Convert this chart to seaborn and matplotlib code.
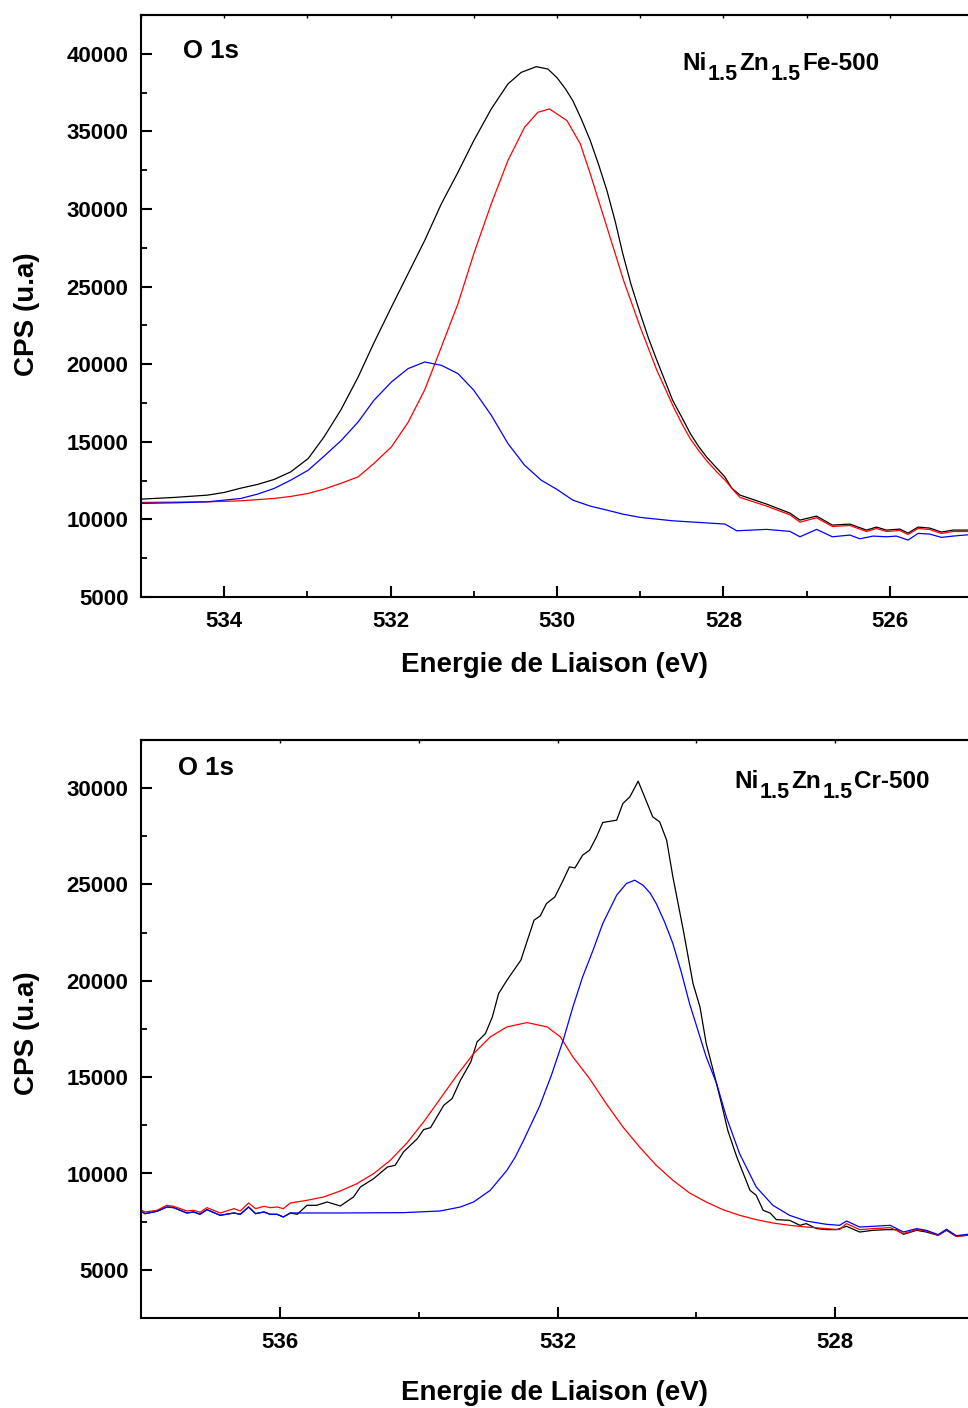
import numpy as np
import pandas as pd
import matplotlib
matplotlib.use("Agg")
import matplotlib.pyplot as plt
import seaborn as sns
from matplotlib.ticker import MultipleLocator
from matplotlib.transforms import IdentityTransform

# ---------------- Top panel : Ni1.5Zn1.5Fe-500 ----------------
fe_black_e = [535.00, 534.60, 534.20, 534.00, 533.80, 533.60, 533.40, 533.20, 532.99, 532.80,
              532.60, 532.39, 532.20, 531.99, 531.79, 531.59, 531.39, 531.19, 531.00, 530.79,
              530.59, 530.43, 530.25, 530.11, 530.00, 529.90, 529.81, 529.71, 529.60, 529.50,
              529.40, 529.30, 529.21, 529.11, 529.00, 528.90, 528.80, 528.70, 528.61, 528.50,
              528.40, 528.30, 528.20, 528.09, 527.98, 527.90, 527.80, 527.48, 527.20, 527.08,
              526.88, 526.69, 526.48, 526.28, 526.16, 526.04, 525.88, 525.78, 525.66, 525.52,
              525.38, 525.24, 525.06]
fe_black_v = [11306, 11416, 11564, 11737, 12014, 12252, 12574, 13063, 13925, 15315,
              17033, 19176, 21380, 23681, 25830, 27973, 30335, 32368, 34408, 36448,
              38057, 38803, 39170, 39022, 38462, 37754, 36982, 35824, 34408, 32864,
              31190, 29196, 27136, 25142, 23275, 21667, 20251, 18900, 17677, 16583,
              15553, 14717, 14009, 13366, 12722, 12014, 11564, 10985, 10405, 9955,
              10212, 9633, 9698, 9311, 9505, 9311, 9376, 9118, 9505, 9440,
              9183, 9311, 9311]

fe_red_e = [535.00, 534.20, 533.80, 533.40, 533.20, 532.99, 532.80, 532.60, 532.39, 532.20,
            531.99, 531.79, 531.59, 531.39, 531.19, 531.00, 530.79, 530.59, 530.39, 530.23,
            530.09, 529.88, 529.72, 529.60, 529.50, 529.40, 529.30, 529.20, 529.10, 529.00,
            528.90, 528.80, 528.70, 528.60, 528.50, 528.40, 528.30, 528.20, 528.08, 527.98,
            527.88, 527.80, 527.48, 527.20, 527.08, 526.88, 526.69, 526.48, 526.28, 526.16,
            526.04, 525.88, 525.78, 525.66, 525.52, 525.38, 525.24, 525.06]
fe_red_v = [11094, 11133, 11197, 11351, 11480, 11673, 11950, 12317, 12741, 13604,
            14672, 16250, 18350, 21107, 23900, 27117, 30335, 33121, 35264, 36230,
            36448, 35695, 34196, 32265, 30547, 28829, 27117, 25399, 23900, 22394,
            21004, 19607, 18430, 17246, 16178, 15212, 14459, 13771, 13063, 12529,
            11885, 11416, 10856, 10296, 9826, 10103, 9543, 9608, 9221, 9415,
            9221, 9286, 9028, 9415, 9350, 9093, 9221, 9221]

fe_blue_e = [535.00, 534.60, 534.20, 533.80, 533.60, 533.40, 533.20, 532.99, 532.80, 532.59,
             532.39, 532.20, 531.99, 531.79, 531.59, 531.39, 531.19, 531.00, 530.79, 530.59,
             530.39, 530.19, 530.00, 529.81, 529.60, 529.40, 529.21, 529.00, 528.61, 527.98,
             527.84, 527.48, 527.20, 527.08, 526.88, 526.69, 526.48, 526.36, 526.20, 526.04,
             525.92, 525.78, 525.66, 525.52, 525.38, 525.24, 525.06]
fe_blue_v = [11030, 11068, 11133, 11351, 11628, 11995, 12529, 13172, 14073, 15103,
             16281, 17677, 18855, 19717, 20142, 19929, 19395, 18320, 16712, 14891,
             13494, 12529, 11931, 11242, 10856, 10598, 10341, 10129, 9910, 9698,
             9266, 9357, 9228, 8880, 9357, 8880, 8990, 8752, 8925, 8880,
             8925, 8668, 9099, 9054, 8842, 8925, 9009]

# ---------------- Bottom panel : Ni1.5Zn1.5Cr-500 ----------------
base_e = [538.01, 537.94, 537.77, 537.63, 537.53, 537.34, 537.24, 537.15, 537.05, 536.86,
          536.66, 536.57, 536.45, 536.35, 536.23, 536.14, 536.04, 535.95, 535.85]
base_v = [8055, 7916, 8037, 8262, 8228, 7951, 8003, 7882, 8124, 7830,
          7951, 7882, 8262, 7916, 8003, 7882, 7882, 7743, 7951]

cr_black_e = base_e + [535.75, 535.61, 535.47, 535.32, 535.13, 534.94, 534.84, 534.65, 534.45, 534.34,
                       534.22, 534.02, 533.93, 533.83, 533.64, 533.52, 533.40, 533.25, 533.16, 533.04,
                       532.94, 532.85, 532.73, 532.53, 532.34, 532.25, 532.16, 532.04, 531.92, 531.83,
                       531.75, 531.64, 531.54, 531.44, 531.35, 531.15, 531.06, 530.96, 530.84, 530.63,
                       530.53, 530.43, 530.34, 530.19, 530.05, 529.95, 529.86, 529.76, 529.64, 529.55,
                       529.42, 529.23, 529.14, 529.04, 528.94, 528.85, 528.66, 528.51, 528.42, 528.27,
                       528.13, 527.98, 527.84, 527.65, 527.46, 527.26, 527.12, 527.02, 526.83, 526.69,
                       526.52, 526.40, 526.26, 526.09]
cr_black_v = base_v + [7882, 8349, 8349, 8522, 8314, 8781, 9300, 9733, 10339, 10426,
                       11118, 11810, 12278, 12381, 13541, 13887, 14839, 15791, 16829, 17262,
                       18127, 19339, 20031, 21069, 23146, 23371, 24013, 24356, 25223, 25913,
                       25861, 26521, 26780, 27471, 28219, 28338, 29205, 29548, 30363, 28509,
                       28250, 27300, 25394, 22627, 19859, 18645, 16744, 15358, 13629, 12243,
                       10857, 9128, 8868, 8089, 7949, 7606, 7570, 7310, 7399, 7139,
                       7087, 7087, 7259, 6963, 7051, 7087, 7087, 6843, 7051, 6963,
                       6791, 7051, 6739, 6791]

cr_red_e = base_e + [535.61, 535.37, 535.13, 534.89, 534.65, 534.41, 534.17, 533.93, 533.69, 533.45,
                     533.21, 532.97, 532.73, 532.44, 532.15, 531.96, 531.78, 531.54, 531.30, 531.06,
                     530.82, 530.58, 530.34, 530.10, 529.86, 529.62, 529.38, 529.14, 528.90, 528.66,
                     528.42, 528.13, 527.94, 527.84, 527.65, 527.46, 527.21, 527.02, 526.83, 526.69,
                     526.52, 526.40, 526.26, 526.09]
cr_red_v = [8125, 8003, 8089, 8349, 8297, 8055, 8089, 7985, 8228, 7951,
            8176, 8055, 8470, 8176, 8297, 8228, 8262, 8176, 8470,
            8608, 8782, 9093, 9474, 9993, 10685, 11585, 12675, 13887, 15098,
            16223, 17089, 17608, 17833, 17608, 17089, 16050, 14926, 13627, 12416,
            11377, 10426, 9647, 8989, 8522, 8124, 7830, 7606, 7431, 7310,
            7224, 7139, 7087, 7399, 7087, 7139, 7190, 6879, 7087, 7016,
            6791, 7087, 6739, 6808]

cr_blue_e = base_e + [535.13, 534.22, 533.69, 533.40, 533.21, 532.97, 532.73, 532.61, 532.49, 532.26,
                      532.09, 531.92, 531.78, 531.64, 531.49, 531.35, 531.15, 531.01, 530.89, 530.77,
                      530.67, 530.58, 530.46, 530.34, 530.22, 530.10, 529.98, 529.86, 529.71, 529.57,
                      529.38, 529.14, 528.90, 528.66, 528.42, 528.13, 527.94, 527.84, 527.65, 527.46,
                      527.21, 527.02, 526.83, 526.69, 526.52, 526.40, 526.26, 526.09]
cr_blue_v = base_v + [7951, 7968, 8055, 8262, 8522, 9128, 10166, 10857, 11724, 13489,
                      15098, 16916, 18645, 20202, 21588, 22975, 24444, 25051, 25223, 24963,
                      24564, 24013, 23058, 21936, 20462, 18821, 17435, 16049, 14667, 12933,
                      11033, 9299, 8349, 7830, 7534, 7362, 7310, 7534, 7222, 7259,
                      7310, 6963, 7139, 7051, 6828, 7103, 6776, 6843]

fe_label_parts = [("Ni", False), ("1.5", True), ("Zn", False), ("1.5", True), ("Fe-500", False)]
cr_label_parts = [("Ni", False), ("1.5", True), ("Zn", False), ("1.5", True), ("Cr-500", False)]
peak_label = "O 1s"
x_title = "Energie de Liaison (eV)"
y_title = "CPS (u.a)"

# ---------------- Style ----------------
sns.set_theme(style="ticks")
plt.rcParams["font.family"] = ["Liberation Sans", "DejaVu Sans"]
plt.rcParams["font.weight"] = "bold"
plt.rcParams["axes.labelweight"] = "bold"
for key in ("text.color", "axes.labelcolor", "xtick.color", "ytick.color", "axes.edgecolor"):
    plt.rcParams[key] = "black"

W, H = 968, 1408
fig = plt.figure(figsize=(W / 100, H / 100), dpi=100)
fig.patch.set_facecolor("white")

ax1 = fig.add_axes([141 / W, 1 - 597 / H, 1 - 141 / W, (597 - 15) / H])
ax2 = fig.add_axes([141 / W, 1 - 1318 / H, 1 - 141 / W, (1318 - 740) / H])

lw = 0.9
for ax, series in (
    (ax1, [(fe_black_e, fe_black_v, "black"), (fe_red_e, fe_red_v, "#ff0000"), (fe_blue_e, fe_blue_v, "#0000ff")]),
    (ax2, [(cr_black_e, cr_black_v, "black"), (cr_red_e, cr_red_v, "#ff0000"), (cr_blue_e, cr_blue_v, "#0000ff")]),
):
    for xe, yv, col in series:
        df = pd.DataFrame({"E": xe, "CPS": yv})
        sns.lineplot(data=df, x="E", y="CPS", color=col, linewidth=lw, ax=ax,
                     sort=False, estimator=None)

ax1.set_xlim(535.0, 525.06)
ax1.set_ylim(5000, 42500)
ax1.xaxis.set_major_locator(MultipleLocator(2))
ax1.xaxis.set_minor_locator(MultipleLocator(1))
ax1.yaxis.set_major_locator(MultipleLocator(5000))
ax1.yaxis.set_minor_locator(MultipleLocator(2500))

ax2.set_xlim(538.0, 526.09)
ax2.set_ylim(2500, 32500)
ax2.xaxis.set_major_locator(MultipleLocator(4))
ax2.xaxis.set_minor_locator(MultipleLocator(2))
ax2.yaxis.set_major_locator(MultipleLocator(5000))
ax2.yaxis.set_minor_locator(MultipleLocator(2500))

for ax, xl_y, yl_y in ((ax1, -0.094, 0.4863), (ax2, -0.107, 0.493)):
    ax.set_facecolor("white")
    ax.spines["right"].set_visible(False)
    for s in ("left", "bottom", "top"):
        ax.spines[s].set_linewidth(1.5)
        ax.spines[s].set_color("black")
    ax.tick_params(axis="both", which="major", direction="in", length=8, width=1.5,
                   labelsize=16, color="black", labelcolor="black")
    ax.tick_params(axis="both", which="minor", direction="in", length=4, width=1.3, color="black")
    ax.tick_params(axis="x", which="major", pad=10)
    ax.tick_params(axis="y", which="major", pad=9)
    for lab in ax.get_xticklabels() + ax.get_yticklabels():
        lab.set_fontweight("bold")
    ax.set_xlabel(x_title, fontsize=20, fontweight="bold", color="black")
    ax.set_ylabel(y_title, fontsize=20, fontweight="bold", color="black")
    ax.xaxis.set_label_coords(0.5, xl_y)
    ax.yaxis.set_label_coords(-0.1221, yl_y)
    ax.grid(False)
    sec = ax.secondary_xaxis("top")
    sec.xaxis.set_major_locator(ax.xaxis.get_major_locator())
    sec.xaxis.set_minor_locator(ax.xaxis.get_minor_locator())
    sec.tick_params(which="both", direction="in", length=2.5, width=1.0, labeltop=False)
    sec.spines["top"].set_linewidth(1.5)

ax1.text(0.0504, 0.9385, peak_label, transform=ax1.transAxes, fontsize=18.5,
         fontweight="bold", ha="left", va="center")
ax2.text(0.0451, 0.951, peak_label, transform=ax2.transAxes, fontsize=18.5,
         fontweight="bold", ha="left", va="center")

# chemical formula labels built from pieces (main text + subscripts)
fig.canvas.draw()
renderer = fig.canvas.get_renderer()


def chem_label(x_px, base_px_from_top, parts, main_size=17.5, sub_size=15.5, drop=10.5, gap=1.5):
    x = x_px
    y = H - base_px_from_top
    for txt, is_sub in parts:
        t = fig.text(x, y - (drop if is_sub else 0), txt, transform=IdentityTransform(),
                     fontsize=sub_size if is_sub else main_size, fontweight="bold",
                     ha="left", va="baseline", color="black")
        bb = t.get_window_extent(renderer)
        x = bb.x1 + gap


chem_label(682, 70, fe_label_parts)
chem_label(734, 788, cr_label_parts)

fig.savefig("out.png", dpi=100, facecolor="white")
